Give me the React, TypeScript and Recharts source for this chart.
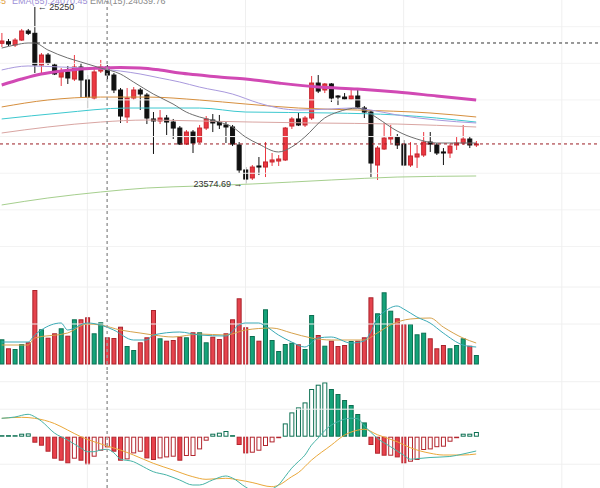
import React from 'react';
import { ComposedChart, Bar, Line, XAxis, YAxis, ReferenceLine, Scatter } from 'recharts';

// ---------- layout constants ----------
const X_MIN = -0.258;
const X_MAX = 90.79;
const PRICE_DOMAIN: [number, number] = [22659, 25316];
const VOL_DOMAIN: [number, number] = [-60, 840];
const MACD_DOMAIN: [number, number] = [-126.6, 133.4];
const FONT = '"Liberation Sans", Arial, sans-serif';

// ---------- data ----------
const opens = [24905, 24920, 24889, 24936, 25022, 25000, 24699, 24794, 24699, 24585, 24633, 24566, 24680, 24557, 24386, 24642, 24680, 24604, 24462, 24206, 24386, 24462, 24414, 24187, 24168, 24196, 24158, 24101, 23949, 24063, 23968, 24101, 24177, 24158, 24130, 24111, 23940, 23703, 23627, 23741, 23731, 23779, 23788, 23798, 24120, 24187, 24130, 24196, 24528, 24462, 24519, 24405, 24395, 24376, 24405, 24291, 24253, 23750, 23902, 23997, 24016, 23949, 23750, 23826, 23845, 23968, 23940, 23874, 23864, 23940, 23959, 23997, 23940];
const highs = [25003, 24946, 24955, 25041, 25041, 25250, 24813, 24813, 24718, 24671, 24690, 24794, 24718, 24604, 24671, 24747, 24699, 24623, 24481, 24481, 24490, 24481, 24433, 24253, 24272, 24225, 24187, 24120, 24082, 24082, 24130, 24215, 24234, 24225, 24158, 24130, 23968, 23731, 23750, 23826, 23968, 23864, 23845, 24111, 24206, 24244, 24215, 24595, 24604, 24528, 24528, 24414, 24433, 24481, 24462, 24310, 24272, 23930, 24149, 24130, 24044, 23987, 23968, 23940, 24063, 24063, 23959, 23911, 23949, 24016, 24130, 24025, 23978];
const lows = [24870, 24879, 24870, 24927, 24984, 24623, 24604, 24699, 24604, 24500, 24519, 24547, 24395, 24291, 24367, 24623, 24557, 24433, 24149, 24149, 24367, 24272, 24139, 23855, 24139, 24035, 23997, 23940, 23940, 23864, 23959, 24082, 24063, 24092, 23959, 23930, 23674, 23574.69, 23608, 23655, 23636, 23741, 23741, 23788, 24092, 24120, 24111, 24177, 24433, 24433, 24348, 24319, 24367, 24367, 24291, 24196, 23636, 23608, 23893, 23959, 23902, 23741, 23731, 23722, 23826, 23874, 23845, 23750, 23817, 23893, 23940, 23911, 23921];
const closes = [24927, 24898, 24936, 25022, 25000, 24699, 24794, 24718, 24614, 24642, 24576, 24680, 24557, 24395, 24633, 24680, 24604, 24462, 24215, 24386, 24462, 24424, 24196, 24168, 24196, 24158, 24101, 23949, 24063, 23959, 24101, 24187, 24149, 24130, 24111, 23949, 23703, 23617, 23731, 23731, 23779, 23798, 23807, 24101, 24187, 24130, 24196, 24528, 24452, 24519, 24386, 24395, 24376, 24405, 24301, 24253, 23769, 23911, 24006, 24016, 23940, 23750, 23836, 23855, 23968, 23949, 23864, 23864, 23930, 23959, 23997, 23940, 23950];
const volumes = [247, 157, 150, 200, 217, 740, 347, 263, 307, 357, 283, 447, 447, 467, 307, 417, 267, 260, 373, 180, 140, 217, 267, 540, 257, 233, 240, 273, 267, 317, 317, 217, 273, 250, 307, 447, 657, 367, 280, 233, 547, 240, 130, 200, 213, 197, 150, 490, 290, 183, 233, 180, 190, 230, 233, 267, 667, 507, 717, 533, 457, 400, 400, 297, 313, 257, 157, 190, 157, 190, 257, 183, 90];
const macdHist = [1.4, 1.0, 1.2, 6, 6.6, -12, -18, -30, -44, -48, -53.4, -44, -48, -56, -40, -28, -21.4, -30, -48, -45.4, -33.4, -30, -43.4, -46.6, -43.4, -41.4, -40, -48, -38.6, -38.6, -25.4, -8, 6, 8, 11.4, 2, -16.6, -33.4, -32, -28, -18.6, -11.4, -1, 26.6, 48.6, 58.6, 68.6, 95.4, 104, 108.6, 95.4, 85.4, 73.4, 63.4, 45.4, 28.6, -16.6, -34, -38, -38, -41.4, -53.4, -50, -46.6, -26.6, -25.4, -21, -20, -10, -2, 6, 6, 9.4];

// moving-average lines, read as [candle index, value]
const emaGray: [number, number][] = [[0, 24860], [2, 24889], [4, 24908], [5, 24908], [7, 24842], [10, 24766], [12, 24728], [15, 24671], [18, 24614], [20, 24538], [23, 24424], [26, 24329], [28, 24253], [30, 24206], [33, 24158], [35, 24111], [37, 24016], [39, 23949], [42, 23874], [44, 23921], [46, 24016], [49, 24196], [51, 24253], [54, 24291], [55, 24272], [57, 24196], [60, 24073], [63, 23997], [66, 23959], [69, 23959], [72, 23959]];
const emaPurple: [number, number][] = [[0, 24652], [4, 24690], [9, 24680], [15, 24661], [18, 24642], [21, 24614], [24, 24576], [27, 24538], [30, 24490], [35, 24424], [39, 24338], [42, 24291], [45, 24272], [50, 24282], [53, 24291], [56, 24272], [60, 24225], [66, 24177], [72, 24149]];
const emaMagenta: [number, number][] = [[0, 24509], [3, 24566], [6, 24614], [9, 24642], [12, 24661], [15, 24671], [18, 24675], [21, 24671], [24, 24652], [27, 24623], [30, 24604], [33, 24585], [37, 24566], [42, 24528], [48, 24490], [54, 24471], [60, 24443], [66, 24405], [72, 24367]];
const emaOrange: [number, number][] = [[0, 24301], [7, 24367], [15, 24395], [22, 24395], [30, 24367], [37, 24329], [45, 24291], [54, 24272], [65, 24244], [72, 24206]];
const emaCyan: [number, number][] = [[0, 24187], [9, 24244], [19, 24291], [30, 24291], [37, 24253], [50, 24244], [60, 24225], [72, 24158]];
const emaRose: [number, number][] = [[0, 24054], [7, 24111], [15, 24158], [22, 24177], [30, 24168], [38, 24158], [47, 24149], [60, 24139], [72, 24111]];
const emaGreen: [number, number][] = [[0, 23371], [7, 23437], [15, 23494], [22, 23532], [30, 23551], [38, 23570], [50, 23608], [60, 23636], [72, 23646]];

const volMa5: [number, number][] = [[0, 220], [4, 220], [5, 290], [6, 340], [9, 410], [10, 340], [13, 410], [15, 390], [17, 340], [20, 240], [22, 240], [23, 290], [27, 320], [30, 290], [34, 280], [36, 390], [37, 410], [39, 410], [40, 380], [42, 290], [44, 220], [46, 170], [48, 260], [50, 270], [53, 210], [55, 230], [56, 320], [57, 460], [58, 520], [60, 580], [61, 550], [63, 470], [65, 410], [67, 310], [70, 190], [72, 170]];
const volMa10: [number, number][] = [[0, 190], [4, 190], [5, 260], [10, 310], [13, 400], [15, 390], [18, 340], [21, 310], [23, 290], [26, 270], [30, 300], [34, 290], [37, 340], [41, 360], [44, 310], [47, 260], [50, 240], [55, 240], [57, 310], [59, 390], [62, 450], [65, 460], [67, 370], [70, 260], [72, 210]];

const macdDif: [number, number][] = [[0, 36.8], [2, 39.4], [4, 44.8], [5, 40], [6, 31.4], [8, 7.4], [10, -6.6], [12, -22.6], [13, -30], [14, -30], [15, -26.6], [16, -25.2], [17, -32], [18, -44.6], [20, -50], [21, -56.6], [23, -70], [25, -76.6], [27, -86.6], [29, -96.6], [30, -96.6], [32, -86.6], [34, -78.6], [35, -82.6], [37, -100.6], [39, -112.6], [41, -104.6], [42, -96.6], [43, -80], [44, -63], [45, -50], [46, -37], [47, -17], [48, -3], [49, 12], [50, 23], [51, 30], [52, 35], [53, 37], [54, 36], [55, 22], [56, 9], [57, -3], [59, -20], [61, -37], [62, -45], [63, -44], [65, -41.6], [68, -39.6], [70, -34.6], [72, -28.6]];
const macdDea: [number, number][] = [[0, 36.8], [3, 38.8], [5, 36.8], [8, 26.4], [10, 13.4], [12, 0], [14, -10], [16, -18.6], [18, -26.6], [20, -36.6], [23, -53.2], [26, -66.6], [29, -80], [31, -85.2], [34, -83.2], [36, -86.6], [38, -91.6], [41, -100], [42, -97], [44, -80], [45, -72], [47, -47], [50, -17], [52, 3], [54, 13], [55, 15], [57, 4], [60, -10], [62, -22], [65, -33], [67, -36.6], [70, -36.6], [72, -34.6]];

const gridCandles = [13, 37, 61, 85];
const priceGrid = [25063, 24715, 24368, 24020, 23672, 23325, 22977];
const volGrid = [400, 770];
const macdGrid = [110, 55, -55, -110];
const LAST_PRICE = 23950;
const REF_PRICE = 24908;
const CROSS_INDEX = 16;
const HIGH_INDEX = 5;
const LOW_INDEX = 37;

// ---------- derived table ----------
const candles = opens.map((o, i) => ({
  i,
  o,
  h: highs[i],
  l: lows[i],
  c: closes[i],
  vol: volumes[i],
  hist: macdHist[i],
  filled: i > 0 && macdHist[i] < macdHist[i - 1],
}));
const pts = (a: [number, number][]) => a.map(([i, v]) => ({ i, v }));

const RED = '#ec3741';
const RED_EDGE = '#c4262e';
const BLACK = '#111111';
const GREEN = '#14a379';
const GREEN_EDGE = '#0c6f52';

// ---------- shapes ----------
const CandleShape = (p: any) => {
  const { x, y, width, height, payload } = p;
  if (x == null || y == null) return null;
  const top = Math.min(y, y + height);
  const hh = Math.abs(height);
  const { o, h, l, c } = payload;
  const k = h === l ? 0 : hh / (h - l);
  const yO = top + (h - o) * k;
  const yC = top + (h - c) * k;
  const up = c >= o;
  const color = up ? RED : BLACK;
  const cx = x + width / 2;
  const bTop = Math.min(yO, yC);
  const bH = Math.max(1, Math.abs(yO - yC));
  return (
    <g>
      <line x1={cx} x2={cx} y1={top} y2={top + hh} stroke={color} strokeWidth={1} />
      <rect x={x + 0.5} y={bTop} width={width - 1} height={bH} fill={color} stroke={up ? RED_EDGE : BLACK} strokeWidth={1} />
    </g>
  );
};

const VolShape = (p: any) => {
  const { x, y, width, height, payload } = p;
  if (x == null || y == null) return null;
  const top = Math.min(y, y + height);
  const h = Math.abs(height);
  const up = payload.c >= payload.o;
  return (
    <rect x={x + 0.5} y={top + 0.5} width={width - 1} height={Math.max(0.5, h - 0.5)}
      fill={up ? GREEN : '#e5434d'} stroke={up ? GREEN_EDGE : '#a9232b'} strokeWidth={1} />
  );
};

const MacdShape = (p: any) => {
  const { x, y, width, height, payload } = p;
  if (x == null || y == null) return null;
  let top = Math.min(y, y + height);
  let h = Math.abs(height);
  const pos = payload.hist >= 0;
  const zero = pos ? top + h : top;
  if (h < 1.5) {
    h = 1.5;
    top = pos ? zero - 1.5 : zero;
  }
  const filled = payload.filled;
  const edge = pos ? GREEN_EDGE : '#b3262e';
  const fill = filled ? (pos ? GREEN : '#e8414b') : '#ffffff';
  return <rect x={x + 0.5} y={top + 0.5} width={width - 1} height={Math.max(0.5, h - 1)} fill={fill} stroke={edge} strokeWidth={1} />;
};

const HighLabel = (p: any) => (
  <text x={p.cx + 3} y={p.cy + 3.5} fontSize={9} fill="#333" fontFamily={FONT}>← 25250</text>
);
const LowLabel = (p: any) => (
  <text x={p.cx - 3} y={p.cy + 3.5} fontSize={9} fill="#333" fontFamily={FONT} textAnchor="end">23574.69 →</text>
);

const axes = (domain: [number, number]) => [
  <XAxis key="x" type="number" dataKey="i" domain={[X_MIN, X_MAX]} allowDataOverflow hide />,
  <YAxis key="y" type="number" domain={domain} allowDataOverflow hide />,
];

const vGridLines = gridCandles.map((g) => (
  <ReferenceLine key={'vg' + g} x={g} stroke="#efefef" strokeWidth={1} />
));

const cross = <ReferenceLine x={CROSS_INDEX} stroke="#9c9c9c" strokeDasharray="3 3" strokeWidth={1.5} />;

const line = (d: [number, number][], color: string, w = 1, key = color) => (
  <Line key={key} data={pts(d)} dataKey="v" type="monotone" stroke={color} strokeWidth={w} dot={false} activeDot={false} isAnimationActive={false} />
);

const margin = { top: 0, right: 0, bottom: 0, left: 0 };

export default function App() {
  return (
    <div style={{ position: 'fixed', left: 0, top: 0, width: 600, height: 488, overflow: 'hidden', background: '#fff', fontFamily: FONT }}>
      <div style={{ position: 'absolute', left: 0, top: 0 }}>
        <ComposedChart width={600} height={280} data={candles} margin={margin}>
          {axes(PRICE_DOMAIN)}
          {priceGrid.map((v) => <ReferenceLine key={'pg' + v} y={v} stroke="#f3f3f3" />)}
          {vGridLines}
          {line(emaGreen, '#a6cf8e')}
          {line(emaRose, '#d9a5a2')}
          {line(emaCyan, '#3cc8cf')}
          {line(emaOrange, '#d68f3e')}
          {line(emaPurple, '#a999dd')}
          {line(emaMagenta, '#d149b4', 3)}
          {line(emaGray, '#6e6e6e')}
          <Bar dataKey={(d: any) => [d.l, d.h]} barSize={5} shape={CandleShape} isAnimationActive={false} />
          <ReferenceLine segment={[{ x: 5.36, y: REF_PRICE }, { x: X_MAX, y: REF_PRICE }]} stroke="#333" strokeDasharray="3 3" />
          <ReferenceLine y={LAST_PRICE} stroke="#9b1c22" strokeDasharray="3 3" />
          {cross}
          <Scatter data={[{ i: HIGH_INDEX, v: highs[HIGH_INDEX] }]} dataKey="v" shape={HighLabel} isAnimationActive={false} />
          <Scatter data={[{ i: LOW_INDEX, v: lows[LOW_INDEX] }]} dataKey="v" shape={LowLabel} isAnimationActive={false} />
        </ComposedChart>
      </div>
      <div style={{ position: 'absolute', left: 0, top: 280 }}>
        <ComposedChart width={600} height={90} data={candles} margin={margin}>
          {axes(VOL_DOMAIN)}
          {volGrid.map((v) => <ReferenceLine key={'volg' + v} y={v} stroke="#f0f0f0" />)}
          {vGridLines}
          <Bar dataKey="vol" barSize={5} shape={VolShape} isAnimationActive={false} />
          {line(volMa10, '#d6a24c')}
          {line(volMa5, '#3aaab6')}
          {cross}
        </ComposedChart>
      </div>
      <div style={{ position: 'absolute', left: 0, top: 370 }}>
        <ComposedChart width={600} height={130} data={candles} margin={margin}>
          {axes(MACD_DOMAIN)}
          {macdGrid.map((v) => <ReferenceLine key={'mg' + v} y={v} stroke="#f0f0f0" />)}
          {vGridLines}
          <Bar dataKey="hist" barSize={5} shape={MacdShape} isAnimationActive={false} />
          {line(macdDea, '#eaa83a')}
          {line(macdDif, '#46b3a6')}
          {cross}
        </ComposedChart>
      </div>
      <svg width={600} height={12} style={{ position: 'absolute', left: 0, top: 0 }}>
        <text x={-4} y={3.5} fontSize={9} fill="#e3a23c" fontFamily={FONT}>45</text>
        <text x={12} y={3.5} fontSize={9} fill="#9d8fd6" fontFamily={FONT}>EMA(55):24070.45</text>
        <text x={90} y={3.5} fontSize={9} fill="#8a8a8a" fontFamily={FONT}>EMA(15):24039.76</text>
      </svg>
    </div>
  );
}
